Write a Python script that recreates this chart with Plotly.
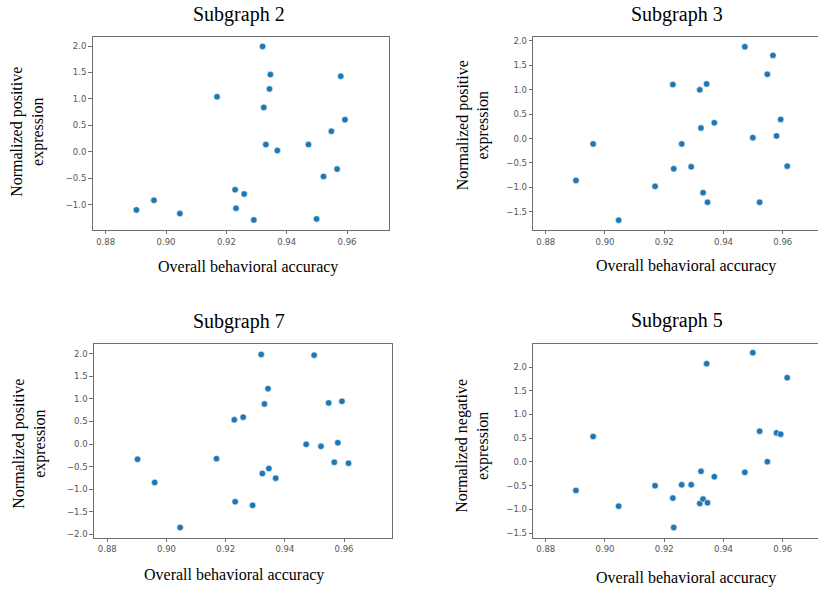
import plotly.graph_objects as go

W, H = 818, 592

# Shared x values (overall behavioral accuracy)
accuracy = [0.8902, 0.8960, 0.9046, 0.9169, 0.9229, 0.9232, 0.9259, 0.9291,
            0.9320, 0.9324, 0.9331, 0.9343, 0.9346, 0.9369, 0.9472, 0.9499,
            0.9522, 0.9548, 0.9567, 0.9579, 0.9593, 0.9615]

subgraph2_pos = [-1.100, -0.918, -1.170, 1.040, -0.718, -1.069, -0.799, -1.289,
                 1.994, 0.839, 0.136, 1.190, 1.460, 0.023, 0.136, -1.270,
                 -0.467, 0.387, -0.328, 1.429, 0.607, None]
subgraph3_pos = [-0.856, -0.110, -1.670, -0.978, 1.104, -0.619, -0.110, -0.578,
                 0.996, 0.216, -1.107, 1.118, -1.304, 0.324, 1.878, 0.019,
                 -1.304, 1.315, 1.701, 0.053, 0.392, -0.564]
subgraph7_pos = [-0.338, -0.853, -1.853, -0.324, 0.537, -1.279, 0.596, -1.360,
                 1.985, -0.654, 0.890, 1.228, -0.544, -0.757, -0.007, 1.971,
                 -0.051, 0.912, -0.404, 0.029, 0.949, -0.426]
subgraph5_neg = [-0.599, 0.535, -0.930, -0.500, -0.761, -1.380, -0.479, -0.479,
                 -0.873, -0.197, -0.782, 2.070, -0.859, -0.310, -0.218, 2.303,
                 0.648, 0.007, None, 0.613, 0.585, 1.775]

titles = ["Subgraph 2", "Subgraph 3", "Subgraph 7", "Subgraph 5"]
ylabels = ["Normalized positive<br>expression", "Normalized positive<br>expression",
           "Normalized positive<br>expression", "Normalized negative<br>expression"]
xlabel = "Overall behavioral accuracy"
x_ticks = [0.88, 0.90, 0.92, 0.94, 0.96]

series = [subgraph2_pos, subgraph3_pos, subgraph7_pos, subgraph5_neg]

# panel geometry in pixels: left, right, top, bottom
boxes = [(92.7, 389.0, 36.0, 230.0),
         (533.3, 818.0, 36.0, 230.0),
         (94.0, 391.7, 345.0, 539.3),
         (533.3, 818.0, 345.0, 539.3)]
xranges = [[0.8757, 0.9739], [0.8758, 0.9719], [0.8755, 0.9761], [0.8758, 0.9719]]
yranges = [[-1.477, 2.175], [-1.867, 2.081], [-2.074, 2.213], [-1.592, 2.48]]
right_border = [True, False, True, False]

title_pos = [(239, 14), (677, 14), (239, 322), (677, 321)]
xlabel_pos = [(248, 267), (686, 266), (234, 577), (686, 580)]
ylabel_pos = [(27.5, 132), (473, 125), (30, 445), (473, 447)]

def px(x):
    return x / W

def py(y):
    return 1 - y / H

fig = go.Figure()
layout = dict(width=W, height=H, margin=dict(l=0, r=0, t=0, b=0),
              paper_bgcolor="white", plot_bgcolor="white", showlegend=False,
              annotations=[])

tick_font = dict(family="DejaVu Sans", size=8.5, color="#555555")
for i in range(4):
    n = "" if i == 0 else str(i + 1)
    xa, ya = "x" + n, "y" + n
    fig.add_trace(go.Scatter(
        x=accuracy, y=series[i], mode="markers", xaxis=xa, yaxis=ya,
        marker=dict(color="#1f77b4", size=6.5, line=dict(color="white", width=0.6)),
    ))
    l, r, t, b = boxes[i]
    layout["xaxis" + n] = dict(
        domain=[px(l), min(px(r), 1.0)], range=xranges[i], anchor=ya,
        tickvals=x_ticks, ticktext=["%.2f" % v for v in x_ticks],
        showgrid=False, zeroline=False, showline=True, linecolor="#707070",
        linewidth=1.3, mirror=True, ticks="outside", ticklen=3.5, tickwidth=1,
        tickcolor="#707070", tickfont=tick_font,
    )
    layout["yaxis" + n] = dict(
        domain=[py(b), py(t)], range=yranges[i], anchor=xa,
        dtick=0.5, tick0=0, tickformat=".1f",
        showgrid=False, zeroline=False, showline=True, linecolor="#707070",
        linewidth=1.3, mirror=right_border[i], ticks="outside", ticklen=3.5,
        tickwidth=1, tickcolor="#707070", tickfont=tick_font,
    )
    tx, ty = title_pos[i]
    layout["annotations"].append(dict(
        text=titles[i], x=px(tx), y=py(ty), xref="paper", yref="paper",
        xanchor="center", yanchor="middle", showarrow=False,
        font=dict(family="Liberation Serif", size=20, color="black")))
    lx, ly = xlabel_pos[i]
    layout["annotations"].append(dict(
        text=xlabel, x=px(lx), y=py(ly), xref="paper", yref="paper",
        xanchor="center", yanchor="middle", showarrow=False,
        font=dict(family="Liberation Serif", size=16, color="black")))
    yx, yy = ylabel_pos[i]
    layout["annotations"].append(dict(
        text=ylabels[i], x=px(yx), y=py(yy), xref="paper", yref="paper",
        xanchor="center", yanchor="middle", showarrow=False, textangle=-90,
        font=dict(family="Liberation Serif", size=16, color="black")))

fig.update_layout(**layout)
fig.write_html("out.html")
